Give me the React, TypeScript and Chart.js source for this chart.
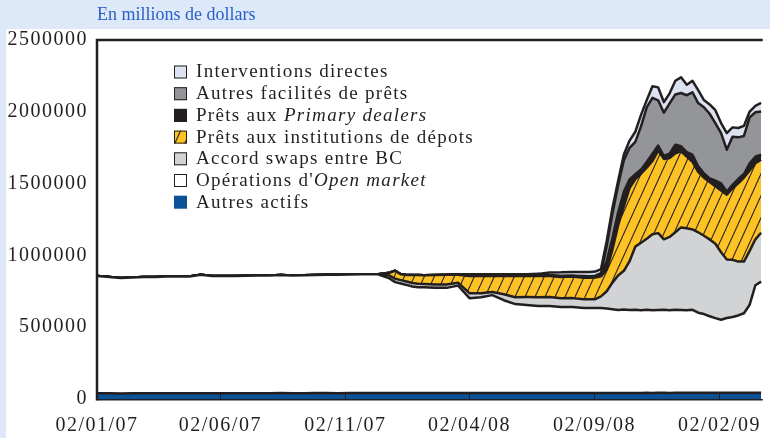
import React, { useEffect, useRef } from "react";
import { Chart, registerables } from "chart.js";

Chart.register(...registerables);

// Days since 02/01/07 (weekly Fed balance-sheet observations)
const days = [
  1, 15, 29, 43, 57, 71, 85, 99, 113, 127, 141, 155, 169, 183, 197, 211, 225, 239, 253, 267, 281, 295, 309, 323, 337,
  344, 351, 358, 365, 372, 379, 386, 393, 400, 414, 428, 442, 456, 470, 484, 498, 512, 526, 540, 554, 568, 582, 596, 603, 610,
  617, 624, 631, 638, 645, 652, 659, 666, 673, 680, 687, 694, 701, 708, 715, 722, 729, 736, 743, 750, 757, 764, 771, 778, 785, 792, 799, 806, 813,
];

const autresActifs = [
  40000, 40000, 39000, 39500, 40000, 40000, 40500, 40000, 40000, 40500, 40000, 40000, 40500, 40500, 40000, 40500, 41000, 40500, 40500, 41000, 41000, 40500, 41000, 41000, 41000,
  41000, 41000, 41500, 41000, 41000, 41500, 41000, 41000, 41500, 41000, 41000, 41500, 41000, 41000, 41500, 41000, 41000, 41500, 41000, 41500, 41000, 41500, 41000, 41000, 41500,
  42000, 42000, 42500, 42000, 42500, 42500, 42000, 42500, 43000, 42500, 43000, 43000, 42500, 43000, 43000, 43500, 43000, 43000, 43500, 43500, 43000, 43500, 44000, 43500, 44000, 44000, 43500, 44000, 44000,
];

const openMarket = [
  817000, 810000, 804000, 806000, 809000, 810000, 812000, 813000, 813000, 825000, 816000, 816000, 816000, 817000, 820000, 819000, 822000, 819000, 821000, 823000, 825000, 825000, 826000, 828000, 828000,
  828000, 813000, 798000, 773000, 763000, 753000, 743000, 738000, 736000, 733000, 733000, 748000, 661000, 668000, 682000, 647000, 620000, 613000, 606000, 606000, 599000, 599000, 592000, 592000, 592000,
  592000, 588000, 583000, 578000, 580000, 577000, 579000, 576000, 578000, 575000, 577000, 579000, 576000, 578000, 577000, 575000, 578000, 558000, 548000, 533000, 520000, 508000, 520000, 528000, 538000, 553000, 613000, 748000, 773000,
];

const swapsBC = [
  0, 0, 0, 0, 0, 0, 0, 0, 0, 0, 0, 0, 0, 0, 0, 0, 0, 0, 0, 0, 0, 0, 0, 0, 0,
  0, 10000, 20000, 24000, 24000, 24000, 24000, 24000, 24000, 24000, 24000, 20000, 35000, 28000, 21000, 42000, 48000, 55000, 62000, 62000, 62000, 62000, 62000, 62000, 62000,
  81000, 120000, 185000, 240000, 270000, 340000, 440000, 470000, 495000, 530000, 535000, 490000, 510000, 540000, 575000, 570000, 560000, 560000, 545000, 535000, 518000, 470000, 408000, 398000, 375000, 360000, 375000, 320000, 341000,
];

const pretsDepots = [
  0, 0, 0, 0, 0, 0, 0, 0, 0, 0, 0, 0, 0, 0, 0, 0, 0, 0, 0, 0, 0, 0, 0, 0, 0,
  0, 10000, 20000, 55000, 40000, 45000, 55000, 60000, 60000, 65000, 68000, 55000, 119000, 119000, 112000, 126000, 147000, 147000, 147000, 147000, 147000, 150000, 150000, 150000, 150000,
  140000, 150000, 230000, 350000, 450000, 510000, 470000, 480000, 495000, 510000, 575000, 560000, 550000, 550000, 530000, 500000, 470000, 420000, 405000, 400000, 400000, 430000, 451000, 497000, 545000, 585000, 560000, 530000, 508000,
];

const primaryDealers = [
  0, 0, 0, 0, 0, 0, 0, 0, 0, 0, 0, 0, 0, 0, 0, 0, 0, 0, 0, 0, 0, 0, 0, 0, 0,
  0, 0, 0, 0, 0, 0, 0, 0, 0, 0, 0, 5000, 11000, 12000, 13000, 13000, 13000, 13000, 15000, 5000, 8000, 5000, 5000, 5000, 8000,
  7000, 60000, 80000, 90000, 100000, 60000, 35000, 30000, 40000, 50000, 35000, 20000, 30000, 60000, 35000, 30000, 50000, 40000, 30000, 25000, 40000, 50000, 20000, 25000, 30000, 25000, 50000, 45000, 35000,
];

const autresFacilites = [
  0, 0, 0, 0, 0, 0, 0, 0, 0, 0, 0, 0, 0, 0, 0, 0, 0, 0, 0, 0, 0, 0, 0, 0, 0,
  0, 0, 0, 0, 0, 0, 0, 0, 0, 0, 0, 0, 0, 0, 0, 0, 0, 0, 0, 0, 0, 0, 6000, 5000, 5000,
  14000, 105000, 170000, 190000, 220000, 220000, 225000, 300000, 380000, 390000, 315000, 302000, 350000, 350000, 371000, 397000, 435000, 440000, 460000, 450000, 400000, 350000, 293000, 335000, 290000, 265000, 320000, 310000, 301000,
];

const interventions = [
  0, 0, 0, 0, 0, 0, 0, 0, 0, 0, 0, 0, 0, 0, 0, 0, 0, 0, 0, 0, 0, 0, 0, 0, 0,
  0, 0, 0, 0, 0, 0, 0, 0, 0, 0, 0, 0, 0, 0, 0, 0, 0, 0, 0, 20000, 25000, 27000, 29000, 29000, 29000,
  29000, 35000, 40000, 30000, 40000, 50000, 70000, 80000, 50000, 80000, 90000, 73000, 70000, 95000, 109000, 73000, 80000, 90000, 50000, 65000, 90000, 70000, 116000, 65000, 65000, 70000, 40000, 45000, 60000,
];

const xTickDays = [0, 151, 304, 456, 609, 762];
const xTickLabels = ["02/01/07", "02/06/07", "02/11/07", "02/04/08", "02/09/08", "02/02/09"];
const yTicks = [0, 500000, 1000000, 1500000, 2000000, 2500000];
const titleText = "En millions de dollars";

const labels = [
  "Autres actifs",
  "Opérations d'Open market",
  "Accord swaps entre BC",
  "Prêts aux institutions de dépots",
  "Prêts aux Primary dealers",
  "Autres facilités de prêts",
  "Interventions directes",
];
const italicParts = ["Open market", "Primary dealers"];

const DARK = "#231f20";
const SERIF = '"Liberation Serif"';

export default function App() {
  const ref = useRef<HTMLCanvasElement>(null);

  useEffect(() => {
    const canvas = ref.current!;
    const ctx = canvas.getContext("2d")!;

    const tile = document.createElement("canvas");
    tile.width = 10;
    tile.height = 22;
    const t = tile.getContext("2d")!;
    t.fillStyle = "#fdc224";
    t.fillRect(0, 0, 10, 22);
    t.strokeStyle = DARK;
    t.lineWidth = 1.1;
    for (const off of [-10, 0, 10]) {
      t.beginPath();
      t.moveTo(off, 22);
      t.lineTo(off + 10, 0);
      t.stroke();
    }
    const hatch = ctx.createPattern(tile, "repeat")!;

    const series = [autresActifs, openMarket, swapsBC, pretsDepots, primaryDealers, autresFacilites, interventions];
    const colors: any[] = ["#0b5196", "#ffffff", "#d1d3d4", hatch, DARK, "#939598", "#dce2f0"];

    const datasets = series.map((vals, k) => ({
      label: labels[k],
      data: days.map((d, i) => ({ x: d, y: vals[i] })),
      backgroundColor: colors[k],
      borderColor: DARK,
      borderWidth: 2.5,
      borderJoinStyle: "round" as const,
      fill: k === 0 ? "origin" : "-1",
      pointRadius: 0,
      tension: 0,
    }));

    const bgPlugin = {
      id: "bg",
      beforeDraw(chart: any) {
        const c = chart.ctx;
        c.save();
        c.fillStyle = "#ffffff";
        c.fillRect(0, 0, chart.width, chart.height);
        c.fillStyle = "#dde9f8";
        c.fillRect(0, 0, chart.width, 29);
        c.fillRect(0, 0, 6, chart.height);
        c.restore();
        // wider tracking for the tick labels (Garamond-like width)
        c.letterSpacing = "1.5px";
      },
    };

    const framePlugin = {
      id: "frame",
      afterDatasetsDraw(chart: any) {
        const c = chart.ctx;
        const a = chart.chartArea;
        const xs = chart.scales.x;
        c.save();
        c.strokeStyle = DARK;
        c.lineWidth = 1;
        xTickDays.forEach((d) => {
          const px = Math.round(xs.getPixelForValue(d)) + 0.5;
          c.beginPath();
          c.moveTo(px, a.bottom);
          c.lineTo(px, a.bottom - 6);
          c.stroke();
        });
        c.lineWidth = 1.5;
        c.beginPath();
        c.moveTo(a.left, a.bottom + 0.75);
        c.lineTo(a.right, a.bottom + 0.75);
        c.stroke();
        c.lineWidth = 2.5;
        c.beginPath();
        c.moveTo(a.left, a.bottom + 1.5);
        c.lineTo(a.left, a.top);
        c.lineTo(a.right, a.top);
        c.stroke();
        c.restore();
      },
    };

    const legendPlugin = {
      id: "customLegend",
      afterDraw(chart: any) {
        const c = chart.ctx;
        const ds = chart.data.datasets.slice().reverse();
        c.save();
        c.textBaseline = "middle";
        c.textAlign = "left";
        c.letterSpacing = "1.3px";
        ds.forEach((d: any, i: number) => {
          const yc = 71.5 + i * 21.7;
          c.fillStyle = d.backgroundColor;
          c.fillRect(174, yc - 6, 13, 13);
          if (d.label !== "Autres actifs") {
            c.strokeStyle = DARK;
            c.lineWidth = 1;
            c.strokeRect(174.5, yc - 5.5, 12, 12);
          }
          let parts: [string, boolean][] = [[d.label, false]];
          for (const ip of italicParts) {
            const idx = d.label.indexOf(ip);
            if (idx >= 0) {
              parts = [
                [d.label.slice(0, idx), false],
                [ip, true],
                [d.label.slice(idx + ip.length), false],
              ];
            }
          }
          let x = 196;
          c.fillStyle = DARK;
          for (const [txt, it] of parts) {
            if (!txt) continue;
            c.font = (it ? "italic " : "") + "19px " + SERIF;
            c.fillText(txt, x, yc + 1);
            x += c.measureText(txt).width;
          }
        });
        c.restore();
      },
    };

    const chart = new Chart(ctx, {
      type: "line",
      data: { datasets: datasets as any },
      options: {
        animation: false,
        responsive: false,
        devicePixelRatio: 1,
        layout: { padding: { top: 40, left: 0, right: 0, bottom: 0 } },
        plugins: {
          legend: { display: false },
          tooltip: { enabled: false },
          title: { display: false },
        },
        elements: { point: { radius: 0 } },
        scales: {
          x: {
            type: "linear",
            min: 0,
            max: 815,
            grid: { display: false, drawTicks: false },
            border: { display: false },
            afterBuildTicks: (s: any) => {
              s.ticks = xTickDays.map((v) => ({ value: v }));
            },
            afterFit: (s: any) => {
              s.height = 39;
            },
            ticks: {
              padding: 15,
              color: DARK,
              autoSkip: false,
              maxRotation: 0,
              font: { family: SERIF, size: 20 },
              callback: (_v: any, i: number) => xTickLabels[i],
            },
          },
          y: {
            stacked: true,
            min: 0,
            max: 2500000,
            grid: { display: false, drawTicks: false },
            border: { display: false },
            afterBuildTicks: (s: any) => {
              s.ticks = yTicks.map((v) => ({ value: v }));
            },
            afterFit: (s: any) => {
              s.width = 97;
            },
            ticks: {
              padding: 9,
              color: DARK,
              font: { family: SERIF, size: 20 },
              callback: (v: any) => String(v),
            },
          },
        },
      } as any,
      plugins: [bgPlugin, framePlugin, legendPlugin],
    });

    return () => chart.destroy();
  }, []);

  return (
    <div
      style={{
        position: "absolute",
        left: 0,
        top: 0,
        width: 770,
        height: 438,
        overflow: "hidden",
        background: "#fff",
      }}
    >
      <canvas ref={ref} width={770} height={438} style={{ display: "block", width: 770, height: 438 }} />
      <div
        style={{
          position: "absolute",
          left: 97,
          top: 4,
          font: '18px "Liberation Serif"',
          color: "#2a61c8",
          whiteSpace: "nowrap",
        }}
      >
        {titleText}
      </div>
    </div>
  );
}
